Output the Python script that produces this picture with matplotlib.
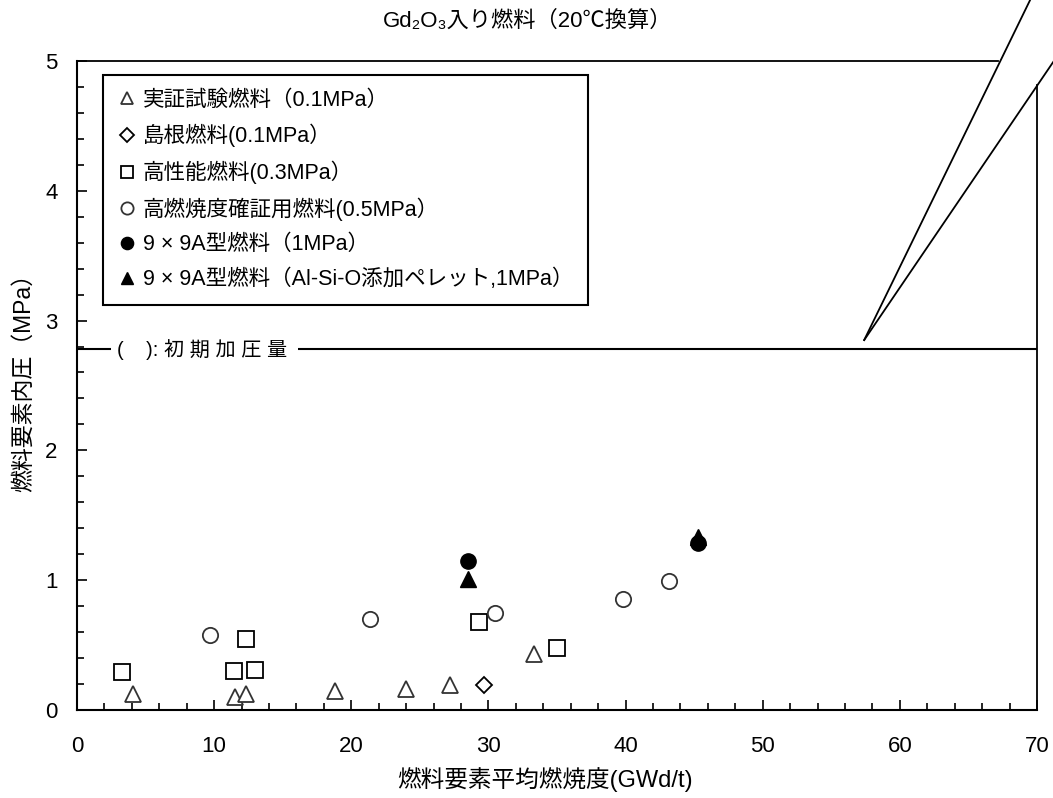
import matplotlib
matplotlib.use("Agg")
import matplotlib.pyplot as plt
from matplotlib.ticker import MultipleLocator

plt.rcParams['font.family'] = ['Liberation Sans', 'Noto Sans CJK JP', 'DejaVu Sans']

# 実証試験燃料(0.1MPa)
jissho_x = [4.1, 11.5, 12.3, 18.8, 24.0, 27.2, 33.3]
jissho_y = [0.12, 0.10, 0.12, 0.15, 0.16, 0.19, 0.43]
# 島根燃料(0.1MPa)
shimane_x = [29.7]
shimane_y = [0.19]
# 高性能燃料(0.3MPa)
koseino_x = [3.3, 11.45, 12.3, 12.96, 29.3, 35.0]
koseino_y = [0.29, 0.30, 0.55, 0.31, 0.68, 0.475]
# 高燃焼度確証用燃料(0.5MPa)
kakusho_x = [9.7, 21.4, 30.5, 39.8, 43.2]
kakusho_y = [0.58, 0.70, 0.75, 0.855, 0.99]
# 9×9A型燃料(1MPa)
a99_x = [28.5, 45.3]
a99_y = [1.15, 1.29]
# 9×9A型燃料(Al-Si-O添加ペレット,1MPa)
alsio_x = [28.5, 45.3]
alsio_y = [1.01, 1.33]

labels = ["実証試験燃料（0.1MPa）", "島根燃料(0.1MPa）", "高性能燃料(0.3MPa）",
          "高燃焼度確証用燃料(0.5MPa）", "9 × 9A型燃料（1MPa）",
          "9 × 9A型燃料（Al-Si-O添加ペレット,1MPa）"]
initial_p = 2.78

fig = plt.figure(figsize=(10.53, 7.98), dpi=100)
ax = fig.add_axes([0.0731, 0.1103, 0.9117, 0.8133])

ms = 11
mew = 1.3
ax.plot(jissho_x, jissho_y, ls='none', marker='^', ms=ms, mfc='white', mec='#333333', mew=mew, label=labels[0])
ax.plot(shimane_x, shimane_y, ls='none', marker='D', ms=8.5, mfc='white', mec='black', mew=mew, label=labels[1])
ax.plot(koseino_x, koseino_y, ls='none', marker='s', ms=ms, mfc='none', mec='black', mew=mew, label=labels[2])
ax.plot(kakusho_x, kakusho_y, ls='none', marker='o', ms=ms, mfc='none', mec='#333333', mew=mew, label=labels[3])
ax.plot(alsio_x, alsio_y, ls='none', marker='^', ms=ms, color='black', label=labels[5])
ax.plot(a99_x, a99_y, ls='none', marker='o', ms=ms, color='black', label=labels[4])

ax.set_xlim(0, 70)
ax.set_ylim(0, 5)
ax.xaxis.set_major_locator(MultipleLocator(10))
ax.xaxis.set_minor_locator(MultipleLocator(2))
ax.yaxis.set_major_locator(MultipleLocator(1))
ax.yaxis.set_minor_locator(MultipleLocator(0.2))
ax.tick_params(which='both', direction='in', top=False, right=False, width=1.2, labelsize=16)
ax.tick_params(which='major', length=7)
ax.tick_params(which='minor', length=5)
ax.tick_params(axis='x', which='major', pad=19)
ax.tick_params(axis='y', which='major', pad=14)

for s in ['left', 'bottom']:
    ax.spines[s].set_linewidth(1.5)
ax.spines['top'].set_visible(False)
ax.spines['right'].set_visible(False)

# box edges cut by the callout wedge
ax.plot([0, 67.15], [5, 5], color='black', lw=1.3, clip_on=False)
ax.plot([70, 70], [0, 4.815], color='black', lw=1.3, clip_on=False)
ax.plot([57.4, 69.5], [2.85, 5.47], color='black', lw=1.3, clip_on=False)
ax.plot([57.4, 71.2], [2.85, 4.995], color='black', lw=1.3, clip_on=False)

ax.axhline(initial_p, color='black', lw=1.5)
ax.text(2.9, initial_p, "(    ): 初 期 加 圧 量 ", fontsize=14.5, va='center', ha='left',
        bbox=dict(facecolor='white', edgecolor='none', pad=4))

handles, labs = ax.get_legend_handles_labels()
order = [0, 1, 2, 3, 5, 4]
leg = ax.legend([handles[i] for i in order], [labs[i] for i in order],
                loc='upper left', bbox_to_anchor=(0.027, 0.979), fontsize=15.5,
                frameon=True, fancybox=False, edgecolor='black', framealpha=1,
                handlelength=0.8, handletextpad=0.35, labelspacing=0.62,
                borderpad=0.7, borderaxespad=0, markerscale=0.8)
leg.get_frame().set_linewidth(1.5)

fig.text(0.501, 0.974, "Gd₂O₃入り燃料（20℃換算）", fontsize=16, ha='center', va='center')
fig.text(0.518, 0.023, "燃料要素平均燃焼度(GWd/t)", fontsize=17, ha='center', va='center')
fig.text(0.022, 0.527, "燃料要素内圧（MPa）", fontsize=16.5, ha='center', va='center', rotation=90)

fig.savefig("out.png", dpi=100)
